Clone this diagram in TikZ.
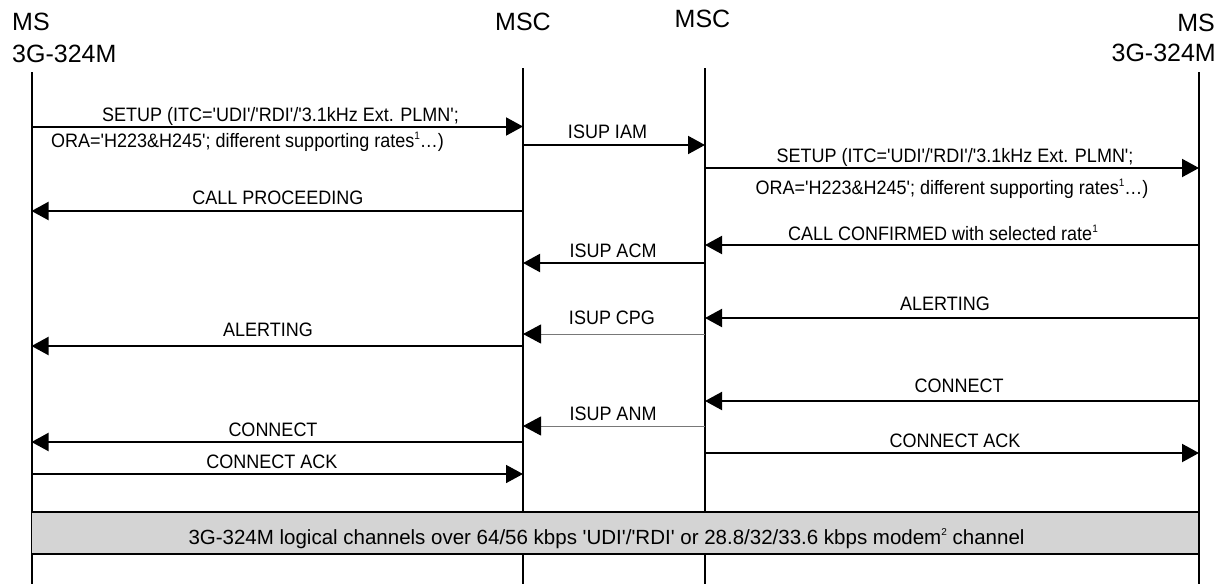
\documentclass[tikz,border=0pt]{standalone}
\usepackage{fontspec}
\usepackage{graphicx}
\newfontfamily\lab{Liberation Sans}
\usetikzlibrary{arrows.meta}
\newcommand\vst[1]{\scalebox{1}[1.08]{#1}}
\newcommand\fnsup[1]{\raisebox{0.75ex}{\fontsize{10}{10}\selectfont #1}}
\definecolor{boxgray}{RGB}{212,212,212}
\definecolor{thingray}{RGB}{120,120,120}
\begin{document}
\begin{tikzpicture}[x=1pt,y=-1pt,
  head/.style={font=\lab\fontsize{25}{28}\selectfont, inner sep=0},
  lbl/.style={font=\lab\fontsize{18}{20}\selectfont, inner sep=0, anchor=base},
  life/.style={line width=2pt},
  msg/.style={line width=2pt, -{Triangle[length=17pt,width=18pt]}},
  lightmsg/.style={line width=1.5pt, -{Triangle[length=17pt,width=18pt]}},
  thinmsg/.style={line width=1pt, draw=thingray, -{Triangle[length=18pt,width=19pt,color=black]}},
  chanbox/.style={draw, line width=1.8pt, fill=boxgray, inner sep=0, minimum width=1167.5pt, minimum height=42pt}
]
\useasboundingbox (0,0) rectangle (1226,584);

% headers
\node[head, anchor=base west] (msA) at (12,30) {MS};
\node[head, anchor=base west] (msAb) at (12,62) {3G-324M};
\node[head, anchor=base] (mscA) at (523,30) {MSC};
\node[head, anchor=base] (mscB) at (702.5,27) {MSC};
\node[head, anchor=base east] (msB) at (1215,31) {MS};
\node[head, anchor=base east] (msBb) at (1216,61) {3G-324M};

% lifeline tops
\coordinate (la) at (31.5,72);
\coordinate (lb) at (523,68);
\coordinate (lc) at (705,68);
\coordinate (ld) at (1199,72);
\draw[life] (la) -- (la |- 0,584);
\draw[life] (lb) -- (lb |- 0,584);
\draw[life] (lc) -- (lc |- 0,584);
\draw[life] (ld) -- (ld |- 0,584);

% 1 SETUP MS -> MSC
\draw[msg] (la |- 0,126.5) -- (lb |- 0,126.5);
\node[lbl] (t1a) at (280.5,121) {\vst{SETUP (ITC='UDI'/'RDI'/'3.1kHz Ext. PLMN';}};
\node[lbl] (t1b) at (247.5,147) {\vst{ORA='H223\&H245'; different supporting rates\fnsup{1}…)}};

% 2 ISUP IAM
\draw[msg] (lb |- 0,145) -- (lc |- 0,145);
\node[lbl] (t2) at (607.5,138) {\vst{ISUP IAM}};

% 3 SETUP MSC -> MS
\draw[msg] (lc |- 0,168) -- (ld |- 0,168);
\node[lbl] (t3a) at (955,162) {\vst{SETUP (ITC='UDI'/'RDI'/'3.1kHz Ext. PLMN';}};
\node[lbl] (t3b) at (952,194) {\vst{ORA='H223\&H245'; different supporting rates\fnsup{1}…)}};

% 4 CALL PROCEEDING
\draw[msg] (lb |- 0,211) -- (la |- 0,211);
\node[lbl] (t4) at (278,204) {\vst{CALL PROCEEDING}};

% 5 CALL CONFIRMED
\draw[msg] (ld |- 0,245) -- (lc |- 0,245);
\node[lbl] (t5) at (943,240) {\vst{CALL CONFIRMED with selected rate\fnsup{1}}};

% 6 ISUP ACM
\draw[msg] (lc |- 0,263) -- (lb |- 0,263);
\node[lbl] (t6) at (613,257) {\vst{ISUP ACM}};

% 7 ALERTING right
\draw[msg] (ld |- 0,318) -- (lc |- 0,318);
\node[lbl] (t7) at (945,310) {\vst{ALERTING}};

% 8 ISUP CPG
\draw[thinmsg] (lc |- 0,334) -- (lb |- 0,334);
\node[lbl] (t8) at (612,324) {\vst{ISUP CPG}};

% 9 ALERTING left
\draw[msg] (lb |- 0,346) -- (la |- 0,346);
\node[lbl] (t9) at (268,336) {\vst{ALERTING}};

% 10 CONNECT right
\draw[msg] (ld |- 0,401) -- (lc |- 0,401);
\node[lbl] (t10) at (959,392) {\vst{CONNECT}};

% 11 ISUP ANM
\draw[thinmsg] (lc |- 0,426) -- (lb |- 0,426);
\node[lbl] (t11) at (613,420) {\vst{ISUP ANM}};

% 12 CONNECT left
\draw[msg] (lb |- 0,442) -- (la |- 0,442);
\node[lbl] (t12) at (273,436) {\vst{CONNECT}};

% 13 CONNECT ACK right
\draw[msg] (lc |- 0,453) -- (ld |- 0,453);
\node[lbl] (t13) at (955,447) {\vst{CONNECT ACK}};

% 14 CONNECT ACK left
\draw[lightmsg] (la |- 0,474) -- (lb |- 0,474);
\node[lbl] (t14) at (272,468) {\vst{CONNECT ACK}};

% channel box
\node[chanbox] (chan) at (615.25,533) {};
\node[font=\lab\fontsize{20.5}{23}\selectfont, inner sep=0, anchor=base] (chantext) at (606.5,544)
  {3G-324M logical channels over 64/56 kbps 'UDI'/'RDI' or 28.8/32/33.6 kbps modem\fnsup{2} channel};
\end{tikzpicture}
\end{document}
